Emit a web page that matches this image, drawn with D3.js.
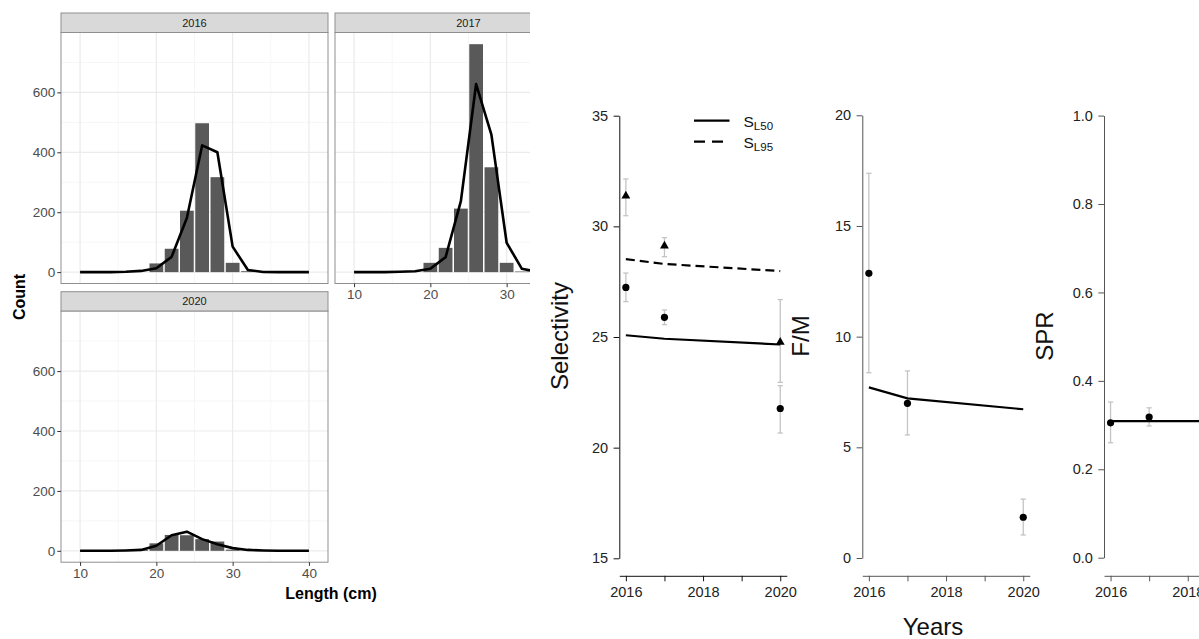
<!DOCTYPE html>
<html><head><meta charset="utf-8">
<script src="https://cdn.jsdelivr.net/npm/d3@7"></script>
<style>body{margin:0;background:#fff}svg{display:block;font-family:"Liberation Sans",Arial,sans-serif}</style>
</head><body><svg id="c" width="1199" height="639"></svg>
<script>
// ---------- Data: length compositions ----------
const panelYears = ["2016", "2017", "2020"];
const binLengths = [18, 20, 22, 24, 26, 28, 30, 32];
const obs2016 = [0, 29, 78, 205, 497, 317, 31, 3];
const obs2017 = [0, 31, 81, 212, 761, 350, 31, 2];
const obs2020 = [3, 25, 53, 52, 39, 31, 4, 0];
const fitLengths = [10, 12, 14, 16, 18, 20, 22, 24, 26, 28, 30, 32, 34, 36, 38, 40];
const fit2016 = [0, 0, 0, 1, 4, 13, 51, 181, 423, 400, 85, 7, 0.5, 0, 0, 0];
const fit2017 = [0, 0, 0, 1, 3, 11, 50, 237, 628, 459, 98, 11, 1, 0, 0, 0];
const fit2020 = [0, 0, 0, 1, 3, 17, 52, 64, 39, 22, 9, 3, 1, 0, 0, 0];
const countTicks = [0, 200, 400, 600];
const countMinor = [100, 300, 500, 700];
const lengthTicks = [10, 20, 30, 40];
const lengthMinor = [15, 25, 35];

// ---------- Data: time series ----------
const years = [2016, 2017, 2020];
const sl50Fit = [25.08, 24.92, 24.66];
const sl95Fit = [28.52, 28.30, 27.98];
const sl50Est = [27.24, 25.89, 21.77];
const sl50Lo = [26.60, 25.56, 20.66];
const sl50Hi = [27.89, 26.22, 22.80];
const sl95Est = [31.34, 29.08, 24.73];
const sl95Lo = [30.48, 28.63, 22.95];
const sl95Hi = [32.14, 29.49, 26.69];
const fmFit = [7.71, 7.21, 6.72];
const fmEst = [12.86, 6.99, 1.84];
const fmLo = [8.37, 5.56, 1.04];
const fmHi = [17.38, 8.45, 2.66];
const sprFitYears = [2016, 2017, 2020];
const sprFit = [0.309, 0.309, 0.309];
const sprYears = [2016, 2017];
const sprEst = [0.305, 0.318];
const sprLo = [0.260, 0.298];
const sprHi = [0.352, 0.339];
const yearTicks = [2016, 2017, 2018, 2019, 2020];
const selTicks = [15, 20, 25, 30, 35];
const fmTicks = [0, 5, 10, 15, 20];
const sprTicks = [0, 0.2, 0.4, 0.6, 0.8, 1.0];

const svg = d3.select("#c");
svg.append("rect").attr("width", 1199).attr("height", 639).attr("fill", "#fff");

// ================= LEFT: faceted histogram (ggplot-like) =================
svg.append("defs").append("clipPath").attr("id", "leftClip")
  .append("rect").attr("x", 0).attr("y", 0).attr("width", 530).attr("height", 639);
const left = svg.append("g").attr("clip-path", "url(#leftClip)");

const PW = 267, SH = 19.5, PH = 251;
const panels = [
  {label: panelYears[0], x0: 61, y0: 13, obs: obs2016, fit: fit2016, showX: false, showY: true},
  {label: panelYears[1], x0: 335, y0: 13, obs: obs2017, fit: fit2017, showX: true, showY: false},
  {label: panelYears[2], x0: 61, y0: 291.7, obs: obs2020, fit: fit2020, showX: true, showY: true}
];

panels.forEach(p => {
  const top = p.y0 + SH;
  const x = d3.scaleLinear().domain([7.5, 42.5]).range([p.x0, p.x0 + PW]);
  const y = d3.scaleLinear().domain([-38, 800]).range([top + PH, top]);
  const g = left.append("g");
  g.append("rect").attr("x", p.x0).attr("y", p.y0).attr("width", PW).attr("height", SH)
    .attr("fill", "#d9d9d9").attr("stroke", "#8f8f8f").attr("stroke-width", 1);
  g.append("text").attr("x", p.x0 + PW / 2).attr("y", p.y0 + SH / 2 + 4)
    .attr("text-anchor", "middle").attr("font-size", 11).attr("fill", "#1a1a1a").text(p.label);
  g.append("rect").attr("x", p.x0).attr("y", top).attr("width", PW).attr("height", PH).attr("fill", "#fff");
  countMinor.forEach(v => g.append("line").attr("x1", p.x0).attr("x2", p.x0 + PW)
    .attr("y1", y(v)).attr("y2", y(v)).attr("stroke", "#f4f4f4").attr("stroke-width", 0.8));
  lengthMinor.forEach(v => g.append("line").attr("y1", top).attr("y2", top + PH)
    .attr("x1", x(v)).attr("x2", x(v)).attr("stroke", "#f4f4f4").attr("stroke-width", 0.8));
  countTicks.forEach(v => g.append("line").attr("x1", p.x0).attr("x2", p.x0 + PW)
    .attr("y1", y(v)).attr("y2", y(v)).attr("stroke", "#ebebeb").attr("stroke-width", 1.2));
  lengthTicks.forEach(v => g.append("line").attr("y1", top).attr("y2", top + PH)
    .attr("x1", x(v)).attr("x2", x(v)).attr("stroke", "#ebebeb").attr("stroke-width", 1.2));
  g.selectAll("rect.bar").data(binLengths.map((b, i) => ({b, v: p.obs[i]})).filter(d => d.v > 0))
    .join("rect").attr("class", "bar")
    .attr("x", d => x(d.b - 0.9)).attr("width", d => x(d.b + 0.9) - x(d.b - 0.9))
    .attr("y", d => y(d.v)).attr("height", d => y(0) - y(d.v))
    .attr("fill", "#595959");
  g.append("path").datum(fitLengths.map((l, i) => [l, p.fit[i]]))
    .attr("d", d3.line().x(d => x(d[0])).y(d => y(d[1])))
    .attr("fill", "none").attr("stroke", "#000").attr("stroke-width", 2.6).attr("stroke-linejoin", "round");
  g.append("rect").attr("x", p.x0).attr("y", top).attr("width", PW).attr("height", PH)
    .attr("fill", "none").attr("stroke", "#8f8f8f").attr("stroke-width", 1);
  if (p.showY) {
    const ay = g.append("g").attr("transform", `translate(${p.x0},0)`)
      .call(d3.axisLeft(y).tickValues(countTicks).tickSize(3.7).tickPadding(2));
    ay.select(".domain").remove();
    ay.selectAll("line").attr("stroke", "#333");
    ay.selectAll("text").attr("font-size", 13.5).attr("fill", "#4d4d4d").attr("font-family", "Liberation Sans, Arial");
  }
  if (p.showX) {
    const ax = g.append("g").attr("transform", `translate(0,${top + PH})`)
      .call(d3.axisBottom(x).tickValues(lengthTicks).tickSize(3.7).tickPadding(2.5));
    ax.select(".domain").remove();
    ax.selectAll("line").attr("stroke", "#333");
    ax.selectAll("text").attr("font-size", 13.5).attr("fill", "#4d4d4d").attr("font-family", "Liberation Sans, Arial");
  }
});
left.append("text").attr("transform", "translate(25,297) rotate(-90)").attr("text-anchor", "middle")
  .attr("font-size", 16).attr("font-weight", "bold").attr("fill", "#000").text("Count");
left.append("text").attr("x", 331).attr("y", 599).attr("text-anchor", "middle")
  .attr("font-size", 16).attr("font-weight", "bold").attr("fill", "#000").text("Length (cm)");

// ================= RIGHT: base-R-like panels =================
const right = svg.append("g");

function basePanel(cfg) {
  const x = d3.scaleLinear().domain([2015.83, 2020.17]).range([cfg.xl, cfg.xl + 167.5]);
  const y = d3.scaleLinear().domain(cfg.ydom).range(cfg.yrange);
  const g = right.append("g");
  const ay = g.append("g").attr("transform", `translate(${cfg.xl},0)`)
    .call(d3.axisLeft(y).tickValues(cfg.yticks).tickSize(5.7).tickSizeOuter(0).tickPadding(5.5)
      .tickFormat(cfg.yfmt));
  ay.select(".domain").attr("stroke", cfg.axisColor);
  ay.selectAll("line").attr("stroke", cfg.axisColor);
  ay.selectAll("text").attr("font-size", 14.5).attr("fill", "#222").attr("font-family", "Liberation Sans, Arial");
  const ax = g.append("g").attr("transform", `translate(0,575.8)`)
    .call(d3.axisBottom(x).tickValues(yearTicks).tickSize(5.5).tickSizeOuter(0).tickPadding(5.5)
      .tickFormat(d => d % 2 === 0 ? String(d) : ""));
  ax.select(".domain").attr("stroke", cfg.axisColor);
  ax.selectAll("line").attr("stroke", cfg.axisColor);
  ax.selectAll("text").attr("font-size", 14.5).attr("fill", "#222").attr("font-family", "Liberation Sans, Arial");
  g.append("text").attr("transform", `translate(${cfg.titleX},336) rotate(-90)`).attr("text-anchor", "middle")
    .attr("font-size", 24).attr("fill", "#111").text(cfg.title);
  return {x, y, g};
}

function errBars(g, x, y, xs, lo, hi) {
  xs.forEach((yr, i) => {
    const cx = x(yr);
    g.append("line").attr("x1", cx).attr("x2", cx).attr("y1", y(lo[i])).attr("y2", y(hi[i]))
      .attr("stroke", "#c4c4c4").attr("stroke-width", 1.3);
    [lo[i], hi[i]].forEach(v => g.append("line").attr("x1", cx - 2.6).attr("x2", cx + 2.6)
      .attr("y1", y(v)).attr("y2", y(v)).attr("stroke", "#c4c4c4").attr("stroke-width", 1.3));
  });
}
function dots(g, x, y, xs, vals) {
  g.selectAll(null).data(xs.map((yr, i) => [yr, vals[i]])).join("circle")
    .attr("cx", d => x(d[0])).attr("cy", d => y(d[1])).attr("r", 3.6).attr("fill", "#000");
}
function tris(g, x, y, xs, vals) {
  const sym = d3.symbol().type(d3.symbolTriangle).size(34);
  g.selectAll(null).data(xs.map((yr, i) => [yr, vals[i]])).join("path")
    .attr("d", sym).attr("transform", d => `translate(${x(d[0])},${y(d[1]) - 0.8})`).attr("fill", "#000");
}

// Selectivity
{
  const {x, y, g} = basePanel({xl: 619.3, ydom: [15, 35], yrange: [558.3, 115.7], yticks: selTicks,
    yfmt: d3.format("d"), axisColor: "#111", title: "Selectivity", titleX: 568});
  errBars(g, x, y, years, sl95Lo, sl95Hi);
  errBars(g, x, y, years, sl50Lo, sl50Hi);
  const ln = d3.line().x(d => x(d[0])).y(d => y(d[1]));
  g.append("path").datum(years.map((yr, i) => [yr, sl50Fit[i]])).attr("d", ln)
    .attr("fill", "none").attr("stroke", "#000").attr("stroke-width", 2.2);
  g.append("path").datum(years.map((yr, i) => [yr, sl95Fit[i]])).attr("d", ln)
    .attr("fill", "none").attr("stroke", "#000").attr("stroke-width", 2.2).attr("stroke-dasharray", "9,5");
  dots(g, x, y, years, sl50Est);
  tris(g, x, y, years, sl95Est);
  const leg = [{lab: "L50", dash: null, yy: 120.7}, {lab: "L95", dash: "11,7", yy: 141.7}];
  leg.forEach(l => {
    g.append("line").attr("x1", 694).attr("x2", 729.5).attr("y1", l.yy).attr("y2", l.yy)
      .attr("stroke", "#000").attr("stroke-width", 2.2).attr("stroke-dasharray", l.dash);
    const t = g.append("text").attr("x", 743.5).attr("y", l.yy + 6).attr("font-size", 15.5).attr("fill", "#111");
    t.append("tspan").text("S");
    t.append("tspan").attr("dy", 3).attr("font-size", 11.5).text(l.lab);
  });
}
// F/M
{
  const {x, y, g} = basePanel({xl: 862.3, ydom: [0, 20], yrange: [558, 115.3], yticks: fmTicks,
    yfmt: d3.format("d"), axisColor: "#555", title: "F/M", titleX: 809});
  errBars(g, x, y, years, fmLo, fmHi);
  g.append("path").datum(years.map((yr, i) => [yr, fmFit[i]]))
    .attr("d", d3.line().x(d => x(d[0])).y(d => y(d[1])))
    .attr("fill", "none").attr("stroke", "#000").attr("stroke-width", 2.2);
  dots(g, x, y, years, fmEst);
}
// SPR
{
  const {x, y, g} = basePanel({xl: 1104, ydom: [0, 1], yrange: [557.7, 115.6], yticks: sprTicks,
    yfmt: d3.format(".1f"), axisColor: "#555", title: "SPR", titleX: 1053});
  errBars(g, x, y, sprYears, sprLo, sprHi);
  g.append("path").datum(sprFitYears.map((yr, i) => [yr, sprFit[i]]))
    .attr("d", d3.line().x(d => x(d[0])).y(d => y(d[1])))
    .attr("fill", "none").attr("stroke", "#000").attr("stroke-width", 2.2);
  dots(g, x, y, sprYears, sprEst);
}
right.append("text").attr("x", 933).attr("y", 635).attr("text-anchor", "middle")
  .attr("font-size", 24).attr("fill", "#111").text("Years");
</script>
</body></html>
